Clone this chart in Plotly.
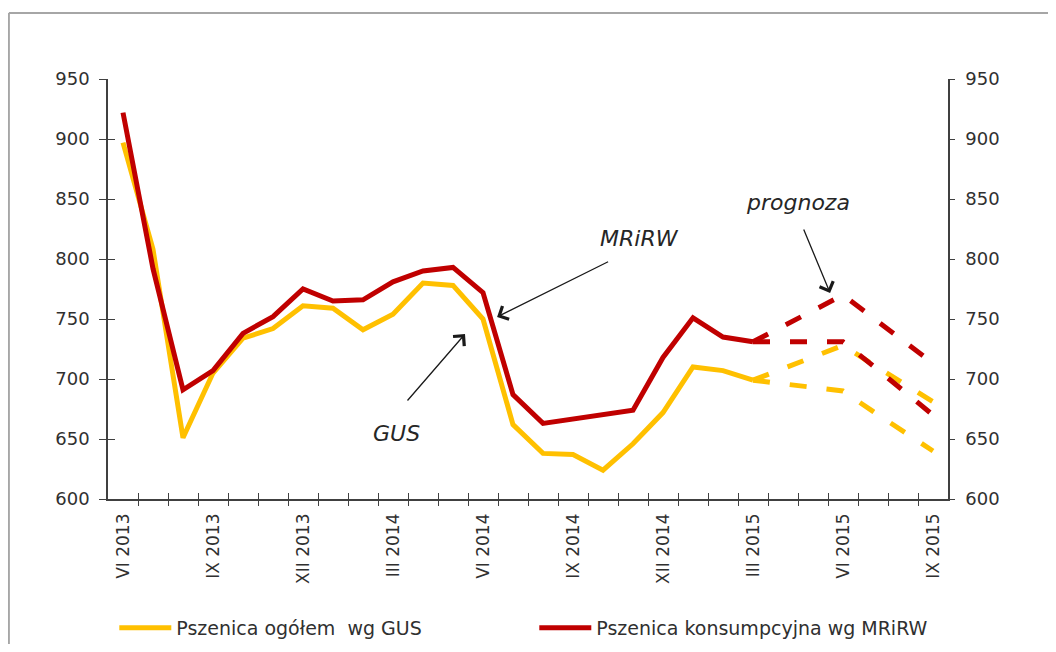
import plotly.graph_objects as go

# ---------------- data ----------------
months = [
    "VI 2013", "VII 2013", "VIII 2013", "IX 2013", "X 2013", "XI 2013", "XII 2013",
    "I 2014", "II 2014", "III 2014", "IV 2014", "V 2014", "VI 2014", "VII 2014",
    "VIII 2014", "IX 2014", "X 2014", "XI 2014", "XII 2014", "I 2015", "II 2015",
    "III 2015", "IV 2015", "V 2015", "VI 2015", "VII 2015", "VIII 2015", "IX 2015",
]
tick_labels = ["VI 2013", "IX 2013", "XII 2013", "III 2014", "VI 2014",
               "IX 2014", "XII 2014", "III 2015", "VI 2015", "IX 2015"]

gus = [897, 808, 651, 705, 734, 742, 761, 759, 741, 754, 780, 778, 750,
       662, 638, 637, 624, 646, 672, 710, 707, 699]
mrirw = [922, 792, 691, 707, 738, 752, 775, 765, 766, 781, 790, 793, 772,
         687, 663, 667, 671, 674, 718, 751, 735, 731]

# forecast (III 2015 - IX 2015)
gus_high = [699, 709, 719, 728, 712, 697, 681]
gus_low = [699, 696, 693, 690, 673, 657, 640]
mrirw_high = [731, 744, 757, 770, 751, 732, 713]
mrirw_low = [731, 731, 731, 731, 711, 691, 670]

y_ticks = [600, 650, 700, 750, 800, 850, 900, 950]

# ---------------- figure ----------------
YELLOW = "#FFC000"
RED = "#C00000"
AXIS = "#404040"
TXT = "#303030"
FONT = "DejaVu Sans"
DASH = "17px,20px"

idx = list(range(len(months)))
label_pos = [months.index(t) for t in tick_labels]
boundaries = [i + 0.5 for i in idx[:-1]]
f_start = len(gus) - 1
f_idx = idx[f_start:f_start + len(gus_high)]

fig = go.Figure()
# solid history lines (main axes)
fig.add_trace(go.Scatter(x=idx[:len(gus)], y=gus, mode="lines",
                         name="Pszenica ogółem  wg GUS",
                         line=dict(color=YELLOW, width=5), xaxis="x", yaxis="y"))
fig.add_trace(go.Scatter(x=idx[:len(mrirw)], y=mrirw, mode="lines",
                         name="Pszenica konsumpcyjna wg MRiRW",
                         line=dict(color=RED, width=5), xaxis="x", yaxis="y"))
# forecasts on overlay axes (same ranges) so those axes get drawn
fig.add_trace(go.Scatter(x=f_idx, y=gus_high, mode="lines", showlegend=False,
                         line=dict(color=YELLOW, width=5, dash=DASH),
                         xaxis="x2", yaxis="y2"))
fig.add_trace(go.Scatter(x=f_idx, y=gus_low, mode="lines", showlegend=False,
                         line=dict(color=YELLOW, width=5, dash=DASH),
                         xaxis="x2", yaxis="y2"))
fig.add_trace(go.Scatter(x=f_idx, y=mrirw_high, mode="lines", showlegend=False,
                         line=dict(color=RED, width=5, dash=DASH),
                         xaxis="x3", yaxis="y3"))
fig.add_trace(go.Scatter(x=f_idx, y=mrirw_low, mode="lines", showlegend=False,
                         line=dict(color=RED, width=5, dash=DASH),
                         xaxis="x3", yaxis="y3"))

xr = [-0.5, len(months) - 0.5]
yr = [y_ticks[0], y_ticks[-1]]
ytickfont = dict(family=FONT, size=18, color=TXT)
xtickfont = dict(family=FONT, size=17, color=TXT)

fig.update_layout(
    width=1040, height=636,
    margin=dict(l=100, r=100, t=71, b=145, autoexpand=False),
    paper_bgcolor="white", plot_bgcolor="white",
    font=dict(family=FONT, color=TXT),
    xaxis=dict(range=xr, tickmode="array", tickvals=label_pos, ticktext=tick_labels,
               tickangle=-90, ticks="outside", ticklen=6, tickcolor="rgba(0,0,0,0)",
               ticklabelstandoff=0, showgrid=False, zeroline=False,
               showline=True, linecolor=AXIS, linewidth=1.5, tickfont=xtickfont),
    xaxis2=dict(range=xr, overlaying="x", anchor="y2", side="bottom",
                tickmode="array", tickvals=boundaries, ticks="outside", ticklen=6,
                tickcolor=AXIS, tickwidth=1.3, showticklabels=False,
                showgrid=False, zeroline=False, showline=False),
    xaxis3=dict(range=xr, overlaying="x", anchor="y3", side="bottom",
                tickmode="array", tickvals=boundaries, ticks="inside", ticklen=6,
                tickcolor=AXIS, tickwidth=1.3, showticklabels=False,
                showgrid=False, zeroline=False, showline=False),
    yaxis=dict(range=yr, tickmode="array", tickvals=y_ticks, ticks="outside",
               ticklen=7, tickcolor=AXIS, tickwidth=1.3, ticklabelstandoff=6,
               showgrid=False, zeroline=False, showline=True,
               linecolor=AXIS, linewidth=1.5, tickfont=ytickfont),
    yaxis2=dict(range=yr, overlaying="y", side="right", anchor="x2",
                tickmode="array", tickvals=y_ticks, ticks="outside", ticklen=5,
                tickcolor=AXIS, tickwidth=1.3, ticklabelstandoff=7,
                showgrid=False, zeroline=False, showline=True,
                linecolor=AXIS, linewidth=1.5, tickfont=ytickfont),
    yaxis3=dict(range=yr, overlaying="y", side="left", anchor="x3",
                tickmode="array", tickvals=y_ticks, ticks="inside", ticklen=7,
                tickcolor=AXIS, tickwidth=1.3, showticklabels=False,
                showgrid=False, zeroline=False, showline=False),
    legend=dict(orientation="h", x=1.0075, xanchor="right", y=-0.307, yanchor="middle",
                itemwidth=52, entrywidth=353, entrywidthmode="pixels",
                font=dict(family=FONT, size=19, color=TXT),
                bgcolor="rgba(0,0,0,0)"),
    showlegend=True,
)

# frame (top and left edges)
fig.add_shape(type="line", xref="paper", yref="paper",
              x0=-0.118, x1=1.2, y0=1.157, y1=1.157,
              line=dict(color="#A6A6A6", width=2))
fig.add_shape(type="line", xref="paper", yref="paper",
              x0=-0.118, x1=-0.118, y0=1.157, y1=-0.4,
              line=dict(color="#A6A6A6", width=2))

ann_font = dict(family=FONT, size=22, color="#262626")
# labels with arrows: (text, text_x, text_y, tail_x, tail_y, head_x, head_y)
notes = [
    ("MRiRW", 17.22, 816.7, 16.22, 798.3, 12.47, 751.7),
    ("GUS", 9.11, 655.0, 9.44, 680.8, 11.40, 737.5),
    ("prognoza", 22.5, 847.5, 22.67, 825.8, 23.57, 771.7),
]
for text, tx, ty, ax_, ay_, hx, hy in notes:
    fig.add_annotation(x=tx, y=ty, xref="x", yref="y", text="<i>" + text + "</i>",
                       showarrow=False, font=ann_font)
    fig.add_annotation(x=hx, y=hy, xref="x", yref="y", ax=ax_, ay=ay_,
                       axref="x", ayref="y", text="", showarrow=True,
                       arrowhead=4, arrowsize=2.2, arrowwidth=1.3,
                       arrowcolor="#1a1a1a", standoff=0)

fig.write_html("out.html")
